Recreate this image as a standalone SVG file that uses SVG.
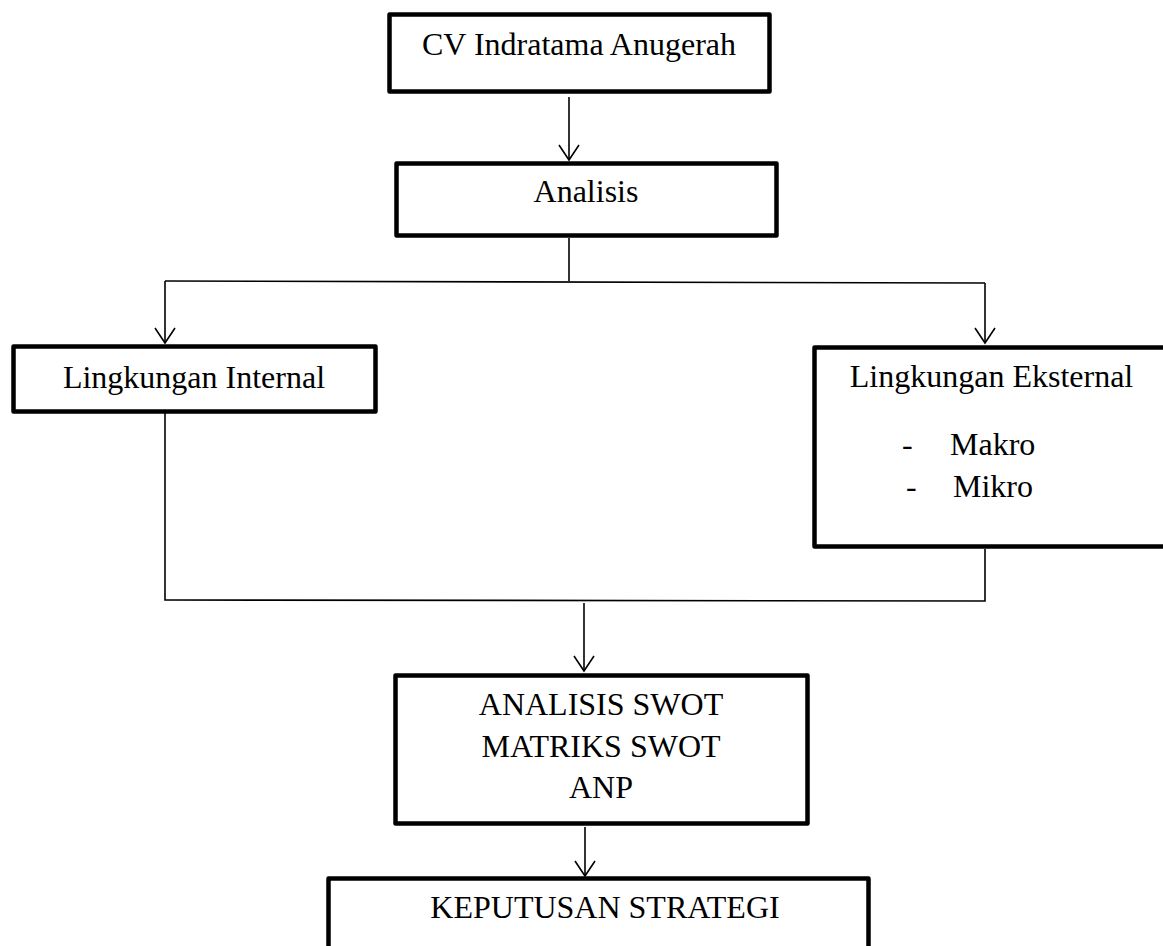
<svg xmlns="http://www.w3.org/2000/svg" width="1163" height="946" viewBox="0 0 1163 946">
<style>
.box{fill:#fff;stroke:#000;stroke-width:4.5;stroke-linejoin:round}
.t{font-family:"Liberation Serif","Times New Roman",serif;font-size:32px;fill:#000}
.c{text-anchor:middle}
.ln{fill:none;stroke:#000;stroke-width:1.6}
</style>
<defs>
<marker id="ah" markerUnits="userSpaceOnUse" markerWidth="20" markerHeight="24" refX="17" refY="12" orient="auto" viewBox="0 0 20 24">
<path d="M2,2 L17,12 L2,22" fill="none" stroke="#000" stroke-width="1.6"/>
</marker>
</defs>
<rect width="1163" height="946" fill="#fff"/>
<g id="connectors">
<line class="ln" x1="569" y1="97" x2="569" y2="160" marker-end="url(#ah)"/>
<polyline class="ln" points="569,238 569,281"/>
<polyline class="ln" points="165,281 985,283"/>
<line class="ln" x1="165" y1="281" x2="165" y2="343" marker-end="url(#ah)"/>
<line class="ln" x1="985" y1="283" x2="985" y2="343" marker-end="url(#ah)"/>
<polyline class="ln" points="165,412 165,600 985,601 985,549"/>
<line class="ln" x1="584" y1="603" x2="584" y2="671" marker-end="url(#ah)"/>
<line class="ln" x1="585" y1="827" x2="585" y2="876" marker-end="url(#ah)"/>
</g>
<g id="node-cv">
<rect class="box" x="389.5" y="14.5" width="380" height="77"/>
<text class="t c" x="579" y="55">CV Indratama Anugerah</text>
</g>
<g id="node-analisis">
<rect class="box" x="396.5" y="163.5" width="380" height="72"/>
<text class="t c" x="586" y="202">Analisis</text>
</g>
<g id="node-internal">
<rect class="box" x="13.5" y="346.5" width="362" height="65"/>
<text class="t c" x="194" y="388">Lingkungan Internal</text>
</g>
<g id="node-eksternal">
<rect class="box" x="814.5" y="347.5" width="360" height="199"/>
<text class="t c" x="991.5" y="387">Lingkungan Eksternal</text>
<text class="t" x="902" y="455">-</text>
<text class="t" x="950" y="455">Makro</text>
<text class="t" x="906" y="497">-</text>
<text class="t" x="953" y="497">Mikro</text>
</g>
<g id="node-swot">
<rect class="box" x="395.5" y="675.5" width="412" height="148"/>
<text class="t c" x="601" y="715">ANALISIS SWOT</text>
<text class="t c" x="601" y="757">MATRIKS SWOT</text>
<text class="t c" x="601" y="798">ANP</text>
</g>
<g id="node-keputusan">
<rect class="box" x="328.5" y="878.5" width="540" height="90"/>
<text class="t c" x="605" y="918">KEPUTUSAN STRATEGI</text>
</g>
</svg>
